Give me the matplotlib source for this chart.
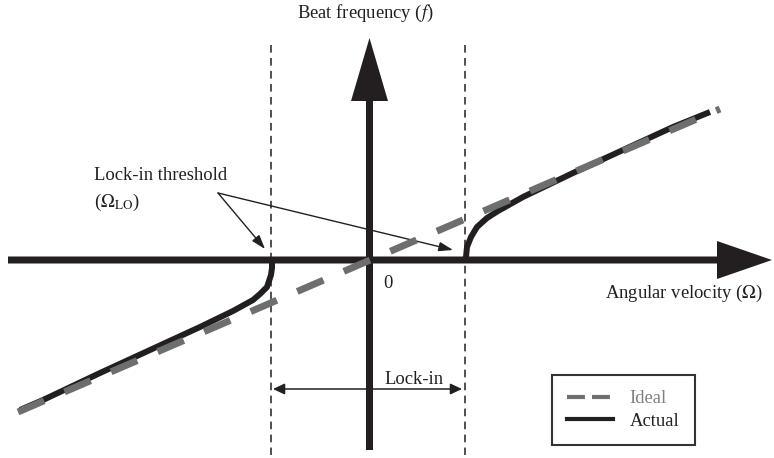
import matplotlib
matplotlib.use('Agg')
import matplotlib.pyplot as plt
from matplotlib.lines import Line2D

plt.rcParams['font.family'] = ['Liberation Serif', 'DejaVu Serif']
plt.rcParams['mathtext.fontset'] = 'stix'

# Schematic units: origin at the axes crossing, one unit ~ one pixel
ideal_omega = [-351.5, 350.5]
ideal_f = [-152, 151]

actual_left_omega = [-97.5, -97.5, -98.5, -102.5, -109.5, -116.5, -136.5, -169.5, -219.5, -269.5, -326.5, -349.5]
actual_left_f = [0, -8, -15, -27, -34, -40, -51, -67, -90, -113, -140, -150]

actual_right_omega = [95.5, 96.5, 97.5, 101.5, 107.5, 117.5, 128.5, 153.5, 203.5, 253.5, 303.5, 340.5]
actual_right_f = [0, 3, 13, 23, 33, 42, 49, 63, 87, 110, 133, 148]

lockin_edges = [-98.5, 95.5]

black = '#231f20'
gray = '#6d6e70'

fig = plt.figure(figsize=(7.74, 4.58), dpi=100)
ax = fig.add_axes([0, 0, 1, 1])
ax.set_xlim(-369.5, 404.5)
ax.set_ylim(-198, 260)
ax.axis('off')

# main axes with big arrow heads
ax.arrow(-361.5, 0, 402.5 + 361.5, 0, width=7, head_width=38, head_length=55,
         length_includes_head=True, lw=0, fc=black, zorder=3)
ax.arrow(0, -190, 0, 412, width=7, head_width=37, head_length=63,
         length_includes_head=True, lw=0, fc=black, zorder=3)

# lock-in limits
for xe in lockin_edges:
    ax.plot([xe, xe], [215, -195], color=black, lw=1.1, ls=(0, (5, 3.5)), zorder=2)

# curves
ax.plot(actual_left_omega, actual_left_f, color=black, lw=4.3, solid_capstyle='butt',
        solid_joinstyle='round', zorder=4)
ax.plot(actual_right_omega, actual_right_f, color=black, lw=4.3, solid_capstyle='butt',
        solid_joinstyle='round', zorder=4)
ax.plot(ideal_omega, ideal_f, color=gray, lw=5, ls=(0, (4.1, 3.2)),
        dash_capstyle='butt', zorder=5)

# lock-in band arrow
ax.annotate('', xy=(lockin_edges[0] + 2, -129), xytext=(lockin_edges[1] - 3, -129),
            arrowprops=dict(arrowstyle='<|-|>,head_length=7,head_width=3.3', mutation_scale=1,
                            lw=1.1, color=black, shrinkA=0, shrinkB=0), zorder=3)
ax.text(44.5, -119, 'Lock-in', fontsize=13.4, ha='center', va='center', color=black)

# threshold pointers
for tip in [(-104.5, 11), (83.5, 10)]:
    ax.annotate('', xy=tip, xytext=(-151.5, 67),
                arrowprops=dict(arrowstyle='-|>,head_length=8.5,head_width=2.8', mutation_scale=1,
                                lw=1.0, color=black, shrinkA=0, shrinkB=0), zorder=3)
ax.text(-276, 80, 'Lock-in threshold', fontsize=13.4, ha='left', va='baseline', color=black)
ax.text(-276, 53, r'($\Omega_{\mathrm{LO}}$)', fontsize=13.4, ha='left', va='baseline', color=black)

ax.text(-4, 247, r'Beat frequency ($f$)', fontsize=13.4, ha='center', va='center', color=black)
ax.text(235.5, -33, r'Angular velocity ($\Omega$)', fontsize=13.4, ha='left', va='center', color=black)
ax.text(18.5, -23, '0', fontsize=13.4, ha='center', va='center', color=black)

handles = [Line2D([], [], color=gray, lw=3, ls=(0, (4.3, 1.7)), dash_capstyle='butt'),
           Line2D([], [], color=black, lw=3)]
leg = ax.legend(handles, ['Ideal', 'Actual'], loc='upper left',
                bbox_to_anchor=(552 / 774, 1 - 375 / 458), bbox_transform=fig.transFigure,
                fontsize=13.4, frameon=True, fancybox=False, framealpha=1,
                borderpad=0.83, handlelength=2.45, handletextpad=0.9, labelspacing=0.27,
                borderaxespad=0)
leg.get_frame().set_edgecolor('#333333')
leg.get_frame().set_linewidth(1.5)
leg.get_texts()[0].set_color('#808080')
leg.get_texts()[1].set_color(black)

fig.savefig('out.png', dpi=100)
